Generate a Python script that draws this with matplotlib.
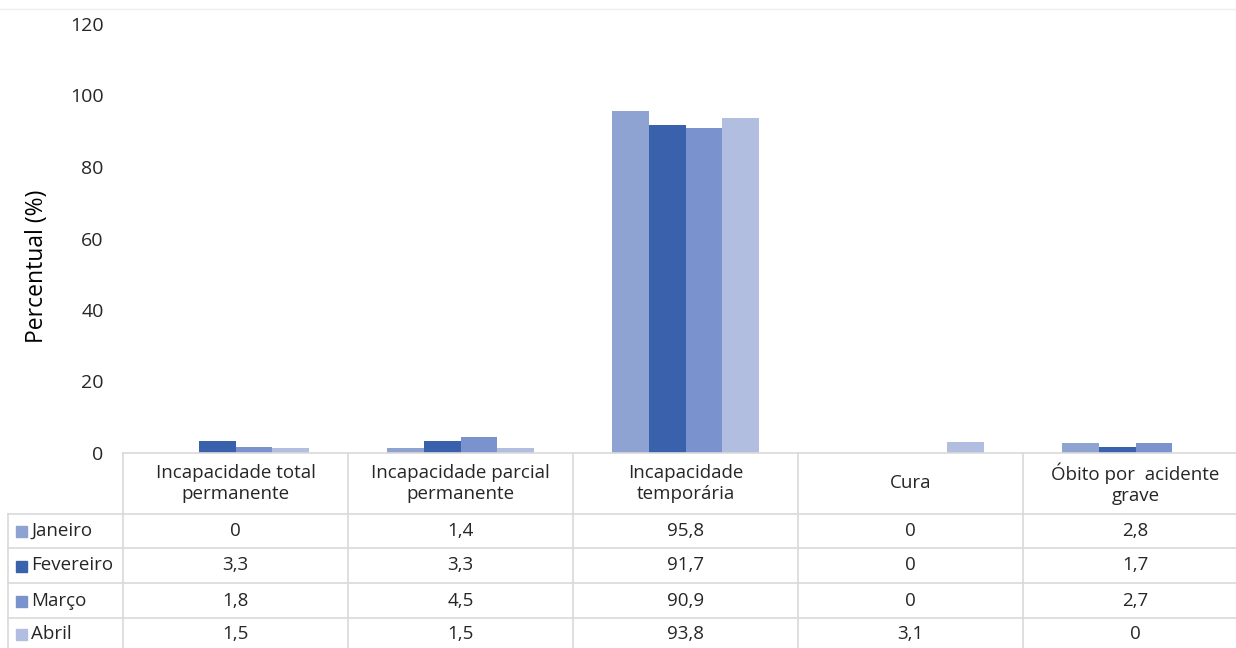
import numpy as np
import matplotlib
matplotlib.use('Agg')
import matplotlib.pyplot as plt
from matplotlib.patches import Rectangle

plt.rcParams['font.family'] = ['Open Sans', 'DejaVu Sans']
plt.rcParams['text.color'] = '#262626'
plt.rcParams['ytick.color'] = '#262626'

categories = ['Incapacidade total\npermanente', 'Incapacidade parcial\npermanente',
              'Incapacidade\ntemporária', 'Cura', 'Óbito por  acidente\ngrave']
series_names = ['Janeiro', 'Fevereiro', 'Março', 'Abril']
janeiro = [0, 1.4, 95.8, 0, 2.8]
fevereiro = [3.3, 3.3, 91.7, 0, 1.7]
marco = [1.8, 4.5, 90.9, 0, 2.7]
abril = [1.5, 1.5, 93.8, 3.1, 0]
series = [janeiro, fevereiro, marco, abril]
colors = ['#8FA3D3', '#3A62AC', '#7A93CE', '#B2BEE0']

W, H = 1236, 648
fig = plt.figure(figsize=(W / 100, H / 100), dpi=100)

# pixel layout
x0, x1 = 123, 1236
col_w = 225
y_top, y_zero = 24, 453

def fx(px):
    return px / W

def fy(py):
    return 1 - py / H

ax = fig.add_axes([fx(x0), fy(y_zero), fx(x1) - fx(x0), fy(y_top) - fy(y_zero)])
ax.set_xlim(0, (x1 - x0) / col_w)
ax.set_ylim(0, 120)

n = len(series)
bw = 0.163
xc = np.arange(len(categories)) + 0.5
for i, (vals, c) in enumerate(zip(series, colors)):
    ax.bar(xc + (i - (n - 1) / 2) * bw, vals, bw, color=c, label=series_names[i])

for s in ['top', 'right', 'bottom', 'left']:
    ax.spines[s].set_visible(False)
ax.set_xticks([])
ax.set_yticks(np.arange(0, 121, 20))
ax.tick_params(axis='y', length=0, labelsize=14, pad=14)
ax.set_ylabel('Percentual (%)', fontsize=16.5)
ax.yaxis.set_label_coords((49 - x0) / (x1 - x0), (y_zero - 266) / (y_zero - y_top))

# overlay axes for the data table, in pixel coordinates
ov = fig.add_axes([0, 0, 1, 1])
ov.set_xlim(0, W)
ov.set_ylim(H, 0)
ov.axis('off')

grid = '#D9D9D9'
ov.plot([0, W], [9, 9], color='#EEEEEE', lw=1)
row_y = [453, 514, 548, 583, 618, 653]
col_x = [x0 + k * col_w for k in range(6)]

ov.plot([x0, W], [453, 453], color=grid, lw=1.2)
for y in row_y[1:5]:
    ov.plot([8, W], [y, y], color=grid, lw=1.2)
for x in col_x[:5]:
    ov.plot([x, x], [453, H], color=grid, lw=1.2)
ov.plot([8, 8], [514, H], color=grid, lw=1.2)

fs = 13.5
for k, cat in enumerate(categories):
    ov.text(x0 + (k + 0.5) * col_w, (453 + 514) / 2, cat, ha='center', va='center',
            fontsize=fs, linespacing=1.2)

for r, (name, vals, c) in enumerate(zip(series_names, series, colors)):
    yc = (row_y[r + 1] + row_y[r + 2]) / 2 if r < 3 else (618 + 648) / 2 + 1
    ov.add_patch(Rectangle((16, yc - 5), 11, 11, color=c))
    ov.text(31, yc, name, ha='left', va='center', fontsize=fs)
    for k, v in enumerate(vals):
        label = ('%g' % v).replace('.', ',')
        ov.text(x0 + (k + 0.5) * col_w, yc, label, ha='center', va='center', fontsize=fs)

fig.savefig('out.png', dpi=100)
